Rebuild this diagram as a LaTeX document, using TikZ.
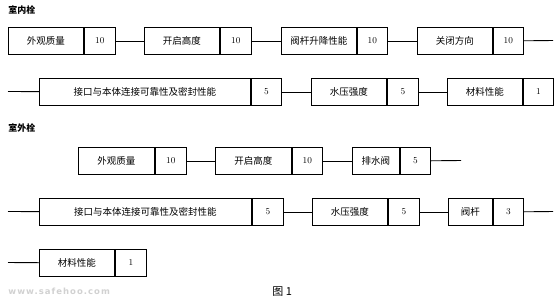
\documentclass[tikz,border=0pt]{standalone}
\usepackage{fontspec}
\newfontfamily\cjk{Noto Sans CJK SC}
\newfontfamily\marksf{DejaVu Sans}[LetterSpace=12]
\usetikzlibrary{positioning}
\tikzset{
  every picture/.style={line width=0.9pt, x=1pt, y=-1pt},
  item/.style={draw, anchor=north west, minimum height=27pt, inner sep=0pt, font=\cjk\fontsize{9.5}{11}\selectfont},
  score/.style={draw, minimum height=27pt, minimum width=31pt, inner sep=0pt, font=\fontsize{9}{11}\selectfont},
  link/.style={line width=0.9pt},
  head/.style={anchor=west, inner sep=0pt, font=\cjk\bfseries\fontsize{9}{11}\selectfont},
}

\begin{document}
\begin{tikzpicture}
  \useasboundingbox (0,0) rectangle (554,301);
  % indoor hydrant
  \node[head] (indoor) at (8,10) {室内栓};
  \node[item, minimum width=75pt] (in1) at (8,27) {外观质量};
  \node[score, right=0pt of in1] (in1s) {10};
  \node[item, minimum width=75pt] (in2) at (144,27) {开启高度};
  \node[score, right=0pt of in2] (in2s) {10};
  \node[item, minimum width=75pt] (in3) at (281,27) {阀杆升降性能};
  \node[score, minimum width=30pt, right=0pt of in3] (in3s) {10};
  \node[item, minimum width=75pt] (in4) at (417,27) {关闭方向};
  \node[score, minimum width=30pt, right=0pt of in4] (in4s) {10};
  \coordinate (in4e) at (553,40.5);
  \draw[link] (in1s) -- (in2);
  \draw[link] (in2s) -- (in3);
  \draw[link] (in3s) -- (in4);
  \draw[link] (in4s) -- (in4e);

  \coordinate (in5b) at (8,91.5);
  \node[item, minimum width=211pt] (in5) at (39,78) {接口与本体连接可靠性及密封性能};
  \node[score, minimum width=30pt, right=0pt of in5] (in5s) {5};
  \node[item, minimum width=75pt] (in6) at (311,78) {水压强度};
  \node[score, right=0pt of in6] (in6s) {5};
  \node[item, minimum width=75pt] (in7) at (447,78) {材料性能};
  \node[score, minimum width=30pt, right=0pt of in7] (in7s) {1};
  \draw[link] (in5b) -- (in5);
  \draw[link] (in5s) -- (in6);
  \draw[link] (in6s) -- (in7);

  % outdoor hydrant
  \node[head] (outdoor) at (8,128) {室外栓};
  \node[item, minimum width=76pt] (out1) at (78,147) {外观质量};
  \node[score, right=0pt of out1] (out1s) {10};
  \node[item, minimum width=76pt] (out2) at (215,147) {开启高度};
  \node[score, minimum width=30pt, right=0pt of out2] (out2s) {10};
  \node[item, minimum width=47pt] (out3) at (352,147) {排水阀};
  \node[score, minimum width=30pt, right=0pt of out3] (out3s) {5};
  \coordinate (out3e) at (461,160.5);
  \draw[link] (out1s) -- (out2);
  \draw[link] (out2s) -- (out3);
  \draw[link] (out3s) -- (out3e);

  \coordinate (out4b) at (8,211.5);
  \node[item, minimum width=212pt] (out4) at (39,198) {接口与本体连接可靠性及密封性能};
  \node[score, right=0pt of out4] (out4s) {5};
  \node[item, minimum width=75pt] (out5) at (312,198) {水压强度};
  \node[score, right=0pt of out5] (out5s) {5};
  \node[item, minimum width=44pt] (out6) at (448,198) {阀杆};
  \node[score, minimum width=30pt, right=0pt of out6] (out6s) {3};
  \coordinate (out6e) at (553,211.5);
  \draw[link] (out4b) -- (out4);
  \draw[link] (out4s) -- (out5);
  \draw[link] (out5s) -- (out6);
  \draw[link] (out6s) -- (out6e);

  \coordinate (out7b) at (8,262.5);
  \node[item, minimum width=75pt] (out7) at (39,249) {材料性能};
  \node[score, right=0pt of out7] (out7s) {1};
  \draw[link] (out7b) -- (out7);

  \node[anchor=west, inner sep=0pt, text=black!18, font=\marksf\bfseries\fontsize{8.5}{10}\selectfont] (mark) at (8,291) {www.safehoo.com};
  \node[anchor=west, inner sep=0pt, font=\cjk\fontsize{11}{13}\selectfont] (caption) at (272,292) {图 1};
\end{tikzpicture}
\end{document}
